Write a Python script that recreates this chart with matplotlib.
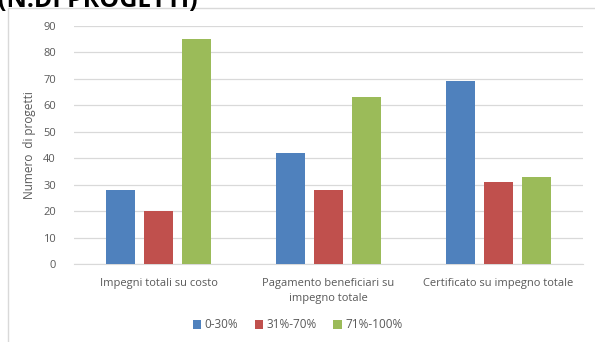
import numpy as np
import matplotlib.pyplot as plt
from matplotlib.patches import Rectangle

categories = ["Impegni totali su costo",
              "Pagamento beneficiari su\nimpegno totale",
              "Certificato su impegno totale"]
series_names = ["0-30%", "31%-70%", "71%-100%"]
low = [28, 42, 69]
mid = [20, 28, 31]
high = [85, 63, 33]
y_ticks = [0, 10, 20, 30, 40, 50, 60, 70, 80, 90]

colors = ["#4F81BD", "#C0504D", "#9BBB59"]
text_gray = "#595959"

plt.rcParams['font.family'] = ['Open Sans', 'DejaVu Sans']

fig = plt.figure(figsize=(5.95, 3.42), dpi=100)
ax = fig.add_axes([0.1244, 0.228, 0.8556, 0.6974])

# chart frame
fig.patches.append(Rectangle((8 / 595, -0.05), 0.99, 1 - 8 / 342 + 0.05,
                             transform=fig.transFigure, fill=False,
                             edgecolor="#D9D9D9", linewidth=1))

x = np.arange(len(categories))
width = 0.171
step = 0.224
for i, (vals, name) in enumerate(zip([low, mid, high], series_names)):
    ax.bar(x + (i - 1) * step, vals, width, color=colors[i], label=name, zorder=3)

ax.set_xlim(-0.5, len(categories) - 0.5)
ax.set_ylim(0, 90)
ax.set_yticks(y_ticks)
ax.set_xticks(x)
ax.set_xticklabels(categories, linespacing=1.5)
ax.tick_params(axis='both', length=0, colors=text_gray, labelsize=8)
ax.tick_params(axis='x', pad=10)
ax.tick_params(axis='y', pad=13)
ax.grid(axis='y', color="#D9D9D9", linewidth=0.9, zorder=0)
for s in ["top", "right", "left"]:
    ax.spines[s].set_visible(False)
ax.spines["bottom"].set_color("#D9D9D9")

ax.set_ylabel("Numero  di progetti", color=text_gray, fontsize=8.5, labelpad=5)

fig.legend(loc="center", bbox_to_anchor=(0.5, 1 - 325 / 342), ncol=3,
           frameon=False, fontsize=8.5, handlelength=0.7, handleheight=0.7,
           handletextpad=0.3, columnspacing=1.4, labelcolor=text_gray)

# title cut off at the top of the picture
fig.text(-0.003, 1 - 7 / 342, "(N.DI PROGETTI)", fontsize=18, fontweight="bold",
         ha="left", va="baseline", color="black")

fig.savefig("out.png", dpi=100)
